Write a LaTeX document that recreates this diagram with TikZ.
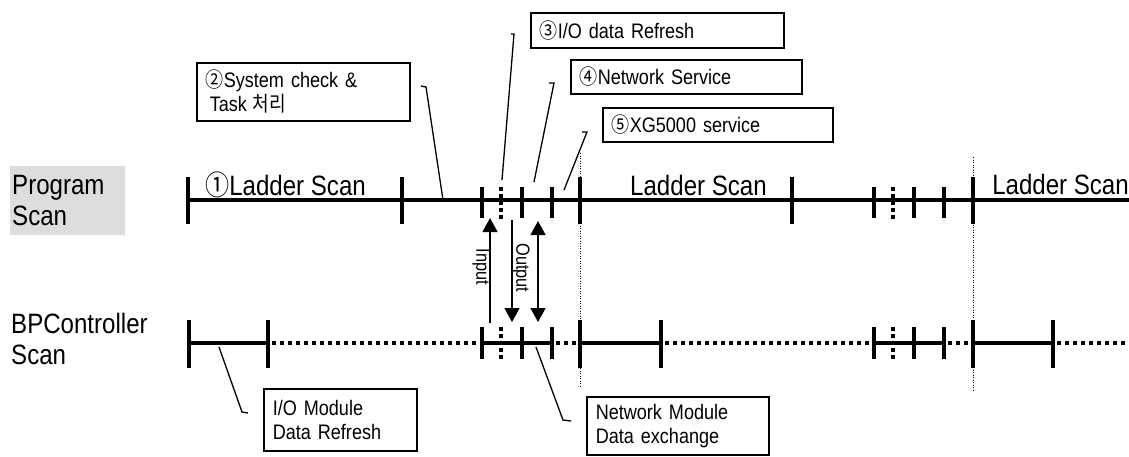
\documentclass[tikz,border=0pt]{standalone}
\usepackage{fontspec}
\setmainfont[FakeStretch=0.86]{Liberation Sans}
\newfontfamily\cjk[FakeStretch=0.86]{Noto Sans CJK KR}
\usetikzlibrary{arrows.meta}
\definecolor{cinza}{RGB}{221,221,221}
\begin{document}
\begin{tikzpicture}[
  x=1pt, y=-1pt,
  every node/.style={inner sep=0pt, font=\fontsize{21}{24}\selectfont},
  >={Triangle[width=15pt,length=14pt]}
]
\tikzset{
  grossa/.style={line width=4pt},
  pontos/.style={line width=4pt, dash pattern=on 4pt off 4pt},
  marca/.style={line width=3.5pt},
  marcapont/.style={line width=3.5pt, dash pattern=on 4pt off 3pt},
  fina/.style={line width=1pt, dash pattern=on 1pt off 1.5pt},
  guia/.style={line width=1.3pt},
  caixa/.style={draw, line width=1.5pt, anchor=north west, align=left, inner xsep=9pt},
  grande/.style={font=\fontsize{28}{31}\selectfont},
  vertical/.style={rotate=-90, font=\fontsize{19}{22}\selectfont}
}
\useasboundingbox (0,0) rectangle (1129,456);

\node[fill=cinza, anchor=north west, minimum width=115, minimum height=69,
  text width=111, inner xsep=2pt, align=left, grande] (prog) at (10,166) {Program\\Scan};
\node[grande, anchor=north west, align=left] (bpc) at (11,313) {BPController\\Scan};

\draw[fina] (580,153) -- (580,387);
\draw[fina] (973,157) -- (973,390);

\draw[grossa] (188,200) -- (1129,200);
\foreach \x in {188,402,792} \draw[marca] (\x,177) -- (\x,224);
\foreach \x in {482,522,552,874,914,944} \draw[marca] (\x,187) -- (\x,218);
\foreach \x in {501,893} \draw[marcapont] (\x,187) -- (\x,219);
\foreach \x in {580,973} \draw[line width=4.5pt] (\x,177) -- (\x,224);

\foreach \a/\b in {189/268,482/552,580/661,874/944,973/1053} \draw[grossa] (\a,343) -- (\b,343);
\foreach \a/\b in {268/482,552/580,661/874,944/973,1053/1129} \draw[pontos] (\a+4,343) -- (\b,343);
\foreach \x in {189,268,580,661,973,1053} \draw[marca] (\x,320) -- (\x,368);
\foreach \x in {482,522,552,874,914,944} \draw[marca] (\x,327) -- (\x,359);
\foreach \x in {501,893} \draw[marcapont] (\x,327) -- (\x,360);

\node[grande, anchor=base west] (ls1) at (205,195) {{\cjk ①}Ladder Scan};
\node[grande, anchor=base west] (ls2) at (630,195) {Ladder Scan};
\node[grande, anchor=base east] (ls3) at (1129,194) {Ladder Scan};

\node[caixa, text width=195, minimum height=58] (b2) at (196,62)
  {{\cjk ②}System check \&\\\hspace{4pt}Task\hspace{6pt}{\cjk 처리}};
\node[caixa, text width=235, minimum height=35] (b3) at (530,12) {{\cjk ③}I/O data Refresh};
\node[caixa, text width=213, minimum height=34] (b4) at (570,59) {{\cjk ④}Network Service};
\node[caixa, text width=212, minimum height=34] (b5) at (602,107) {{\cjk ⑤}XG5000 service};
\node[caixa, text width=135, minimum height=62] (bio) at (263,388) {I/O Module\\Data Refresh};
\node[caixa, text width=164, minimum height=58] (bnet) at (586,396) {Network Module\\Data exchange};

\coordinate (g2a) at (421,86);  \coordinate (g2b) at (443,200);
\coordinate (g3a) at (511,34);  \coordinate (g3b) at (502,180);
\coordinate (g4a) at (549,83);  \coordinate (g4b) at (534,182);
\coordinate (g5a) at (582,132); \coordinate (g5b) at (564,190);
\coordinate (gioa) at (219,347); \coordinate (giob) at (248,413);
\coordinate (gneta) at (536,347); \coordinate (gnetb) at (571,421);
\draw[guia] (g2a) -- ++(5,1) -- (g2b);
\draw[guia] (g3a) -- ++(3,0) -- (g3b);
\draw[guia] (g4a) -- ++(5,0) -- (g4b);
\draw[guia] (g5a) -- ++(5,0) -- (g5b);
\draw[guia] (gioa) -- ++(23,65) -- (giob);
\draw[guia] (gneta) -- ++(27,73) -- (gnetb);

\coordinate (ia) at (490,323); \coordinate (ib) at (490,218);
\coordinate (oa) at (512,220); \coordinate (ob) at (512,322);
\coordinate (da) at (538,221); \coordinate (db) at (538,322);
\draw[guia,->] (ia) -- (ib);
\draw[guia,->] (oa) -- (ob);
\draw[guia,<->] (da) -- (db);
\node[vertical] (inp) at (481,267) {Input};
\node[vertical] (outp) at (521,268) {Output};
\end{tikzpicture}
\end{document}
